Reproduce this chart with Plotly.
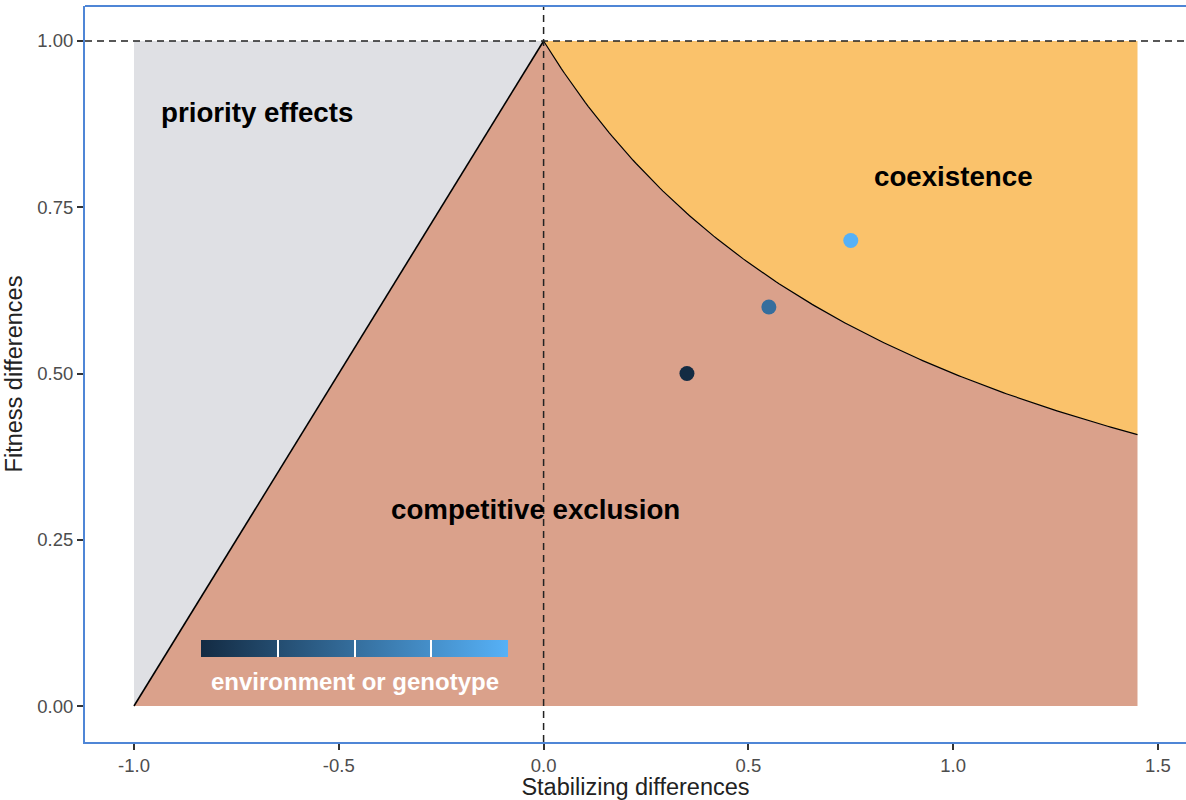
import numpy as np
import plotly.graph_objects as go

# Observed communities: stabilizing vs fitness differences, coloured by environment/genotype
stabilizing = [0.35, 0.55, 0.75]
fitness = [0.50, 0.60, 0.70]
environment = [1, 2, 3]

# Extent of the shaded regions on the stabilizing axis
stab_min = -1.0
stab_max = 1.45

# Tick labels
x_ticks = [-1.0, -0.5, 0.0, 0.5, 1.0, 1.5]
x_tick_text = ["-1.0", "-0.5", "0.0", "0.5", "1.0", "1.5"]
y_ticks = [0.0, 0.25, 0.5, 0.75, 1.0]
y_tick_text = ["0.00", "0.25", "0.50", "0.75", "1.00"]

# Region labels
region_names = ["priority effects", "coexistence", "competitive exclusion"]
region_x = [-0.70, 1.0, -0.02]
region_y = [0.893, 0.796, 0.296]

GREY = "#DFE0E4"
ORANGE = "#FAC26B"
SALMON = "#DAA18B"
BLUE_FRAME = "#4F86D6"


def coexistence_boundary(s):
    # fitness-difference threshold above which the species coexist
    return 1.0 / (1.0 + s)


s_right = np.linspace(0.0, stab_max, 200)
f_right = coexistence_boundary(s_right)

fig = go.Figure()

# priority effects (upper-left triangle)
fig.add_trace(go.Scatter(
    x=[stab_min, 0.0, stab_min], y=[0.0, 1.0, 1.0],
    fill="toself", fillcolor=GREY, mode="none", hoverinfo="skip", showlegend=False))

# coexistence (above the boundary curve)
fig.add_trace(go.Scatter(
    x=list(s_right) + [stab_max, 0.0], y=list(f_right) + [1.0, 1.0],
    fill="toself", fillcolor=ORANGE, mode="none", hoverinfo="skip", showlegend=False))

# competitive exclusion (below both boundaries)
fig.add_trace(go.Scatter(
    x=[stab_min] + list(s_right) + [stab_max],
    y=[0.0] + list(f_right) + [0.0],
    fill="toself", fillcolor=SALMON, mode="none", hoverinfo="skip", showlegend=False))

# boundary lines
fig.add_trace(go.Scatter(
    x=[stab_min, 0.0], y=[0.0, 1.0], mode="lines",
    line=dict(color="black", width=1.6), hoverinfo="skip", showlegend=False))
fig.add_trace(go.Scatter(
    x=s_right, y=f_right, mode="lines",
    line=dict(color="black", width=1.2), hoverinfo="skip", showlegend=False))

# reference lines
fig.add_hline(y=1.0, line=dict(color="#222222", width=1.5, dash="7px,5px"))
fig.add_vline(x=0.0, line=dict(color="#222222", width=1.5, dash="7px,5px"))

# top edge of the panel frame
fig.add_shape(type="line", xref="paper", yref="paper", x0=0, x1=1, y0=1, y1=1,
              line=dict(color=BLUE_FRAME, width=2))

# observed points with a continuous colour scale
cbar_ticks = [1.0, 1.5, 2.0, 2.5, 3.0]
fig.add_trace(go.Scatter(
    x=stabilizing, y=fitness, mode="markers", showlegend=False,
    marker=dict(
        size=15, color=environment, cmin=min(environment), cmax=max(environment),
        colorscale=[[0, "#132B43"], [1, "#56B1F7"]],
        line=dict(width=0),
        colorbar=dict(
            orientation="h",
            x=0.2448, xanchor="center",
            y=0.1386, yanchor="top",
            len=307, lenmode="pixels",
            thickness=17, thicknessmode="pixels",
            xpad=0, ypad=0,
            outlinewidth=0,
            ticks="inside", ticklen=17, tickwidth=1.5, tickcolor="white",
            tickmode="array", tickvals=cbar_ticks, ticktext=[""] * len(cbar_ticks),
            tickfont=dict(size=10, color="rgba(0,0,0,0)"),
        ),
    ),
))

# colour-bar caption, set just under the bar
fig.add_annotation(
    xref="paper", yref="paper", x=0.2448, y=0.1386 - 17 / 736 - 0.012,
    xanchor="center", yanchor="top", showarrow=False,
    text="<b>environment or genotype</b>",
    font=dict(family="Liberation Sans, Arial", size=24, color="white"))

for name, tx, ty in zip(region_names, region_x, region_y):
    fig.add_annotation(
        x=tx, y=ty, text="<b>%s</b>" % name, showarrow=False,
        font=dict(family="Liberation Sans, Arial", size=27.7, color="black"),
        xanchor="center", yanchor="middle")

x_range = [-1.1196, 1.5684]
y_range = [-0.0541, 1.0526]

fig.update_layout(
    width=1186, height=800,
    margin=dict(l=85, r=0, t=6, b=58),
    paper_bgcolor="white", plot_bgcolor="white",
    font=dict(family="Liberation Sans, Arial", color="#4D4D4D"),
    xaxis=dict(
        range=x_range, tickvals=x_ticks, ticktext=x_tick_text,
        showgrid=False, zeroline=False,
        showline=True, linecolor=BLUE_FRAME, linewidth=2,
        ticks="outside", ticklen=6, tickwidth=1.5, tickcolor="#333333",
        tickfont=dict(size=18.5, color="#4D4D4D"),
        title=dict(text="Stabilizing differences", standoff=7,
                   font=dict(size=23.5, color="#222222")),
    ),
    yaxis=dict(
        range=y_range, tickvals=y_ticks, ticktext=y_tick_text,
        showgrid=False, zeroline=False,
        showline=True, linecolor=BLUE_FRAME, linewidth=2,
        ticks="outside", ticklen=6, tickwidth=1.5, tickcolor="#333333",
        tickfont=dict(size=18.5, color="#4D4D4D"),
        title=dict(text="Fitness differences", standoff=8,
                   font=dict(size=23.5, color="#222222")),
    ),
)

fig.write_html("out.html")
